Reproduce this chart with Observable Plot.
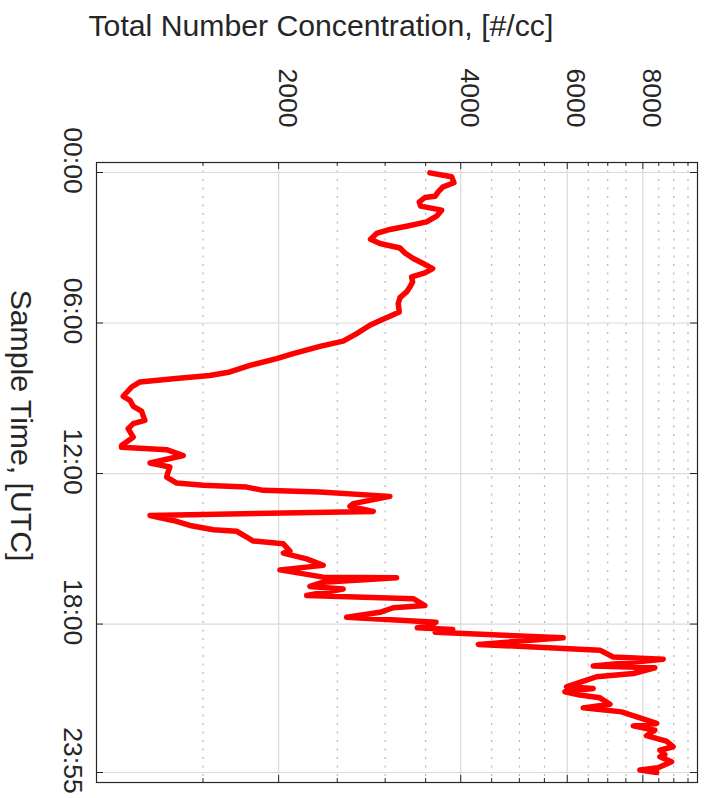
<!DOCTYPE html>
<html>
<head>
<meta charset="utf-8">
<script src="https://cdn.jsdelivr.net/npm/d3@7"></script>
<script src="https://cdn.jsdelivr.net/npm/@observablehq/plot@0.6"></script>
<style>
  html, body { margin: 0; padding: 0; background: #fff; }
  svg { display: block; }
</style>
</head>
<body>
<div id="chart"></div>
<script>
// Sample time in hours (UTC)
const hours = [
  0.016, 0.17, 0.41, 0.57, 0.77, 0.95, 1.00, 1.17, 1.34, 1.50,
  1.74, 1.97, 2.14, 2.27, 2.43, 2.66, 2.83, 3.01, 3.21, 3.43,
  3.63, 3.83, 4.00, 4.16, 4.36, 4.56, 4.76, 4.99, 5.23, 5.56,
  5.73, 5.89, 6.09, 6.42, 6.72, 6.93, 7.22, 7.42, 7.69, 7.95,
  8.09, 8.22, 8.35, 8.55, 8.92, 9.08, 9.32, 9.51, 9.88, 10.01,
  10.21, 10.55, 10.88, 10.95, 11.05, 11.28, 11.58, 11.74, 12.01, 12.14,
  12.38, 12.47, 12.54, 12.67, 12.74, 12.91, 13.20, 13.31, 13.51, 13.67,
  13.87, 14.07, 14.24, 14.30, 14.53, 14.69, 14.80, 15.09, 15.17, 15.40,
  15.66, 15.84, 16.13, 16.15, 16.33, 16.50, 16.60, 16.86, 16.99, 17.26,
  17.35, 17.53, 17.73, 17.93, 18.08, 18.15, 18.22, 18.33, 18.55, 18.81,
  19.04, 19.31, 19.40, 19.67, 19.74, 19.97, 20.10, 20.23, 20.50, 20.57,
  20.70, 20.83, 20.94, 21.20, 21.34, 21.50, 21.96, 22.06, 22.23, 22.45,
  22.67, 22.89, 23.03, 23.20, 23.29, 23.49, 23.73, 23.82, 23.917
];
// Total number concentration, #/cc
const concentration = [
  3557, 3864, 3898, 3741, 3671, 3627, 3490, 3416, 3434, 3720,
  3649, 3513, 3255, 3055, 2904, 2838, 2941, 3174, 3235, 3339,
  3467, 3595, 3490, 3318, 3331, 3297, 3255, 3174, 3153, 3166,
  3055, 2950, 2831, 2692, 2557, 2341, 2114, 1985, 1793, 1662,
  1539, 1339, 1180, 1143, 1107, 1136, 1150, 1187, 1202, 1150,
  1128, 1150, 1100, 1100, 1306, 1391, 1226, 1322, 1310, 1306,
  1357, 1501, 1771, 1886, 2341, 3055, 2657, 2624, 2867, 1226,
  1339, 1427, 1560, 1705, 1771, 1816, 2036, 2088, 2036, 2225,
  2370, 2010, 2370, 3133, 2370, 2253, 2557, 2225, 3339, 3490,
  3093, 2941, 2591, 3640, 3560, 3390, 3880, 3630, 5907, 4276,
  6793, 7145, 8645, 6622, 8375, 7713, 6708, 6457, 5984, 6622,
  5945, 6295, 6793, 7058, 6375, 7378, 8433, 7713, 8375, 8110,
  8750, 8975, 8536, 8700, 8536, 8925, 8475, 7910, 8433
];

const timeTicks = [0, 6, 12, 18, 23.9167];
const timeTickLabels = ["00:00", "06:00", "12:00", "18:00", "23:55"];
const concMajorTicks = [2000, 4000, 6000, 8000];
const concMajorLabels = ["2000", "4000", "6000", "8000"];
const concMinorTicks = [1500, 2500, 3000, 3500, 4500, 5000, 5500, 6500, 7000, 7500, 8500, 9000, 9500];
const concDomain = [1000, 9850];
const xLabel = "Total Number Concentration, [#/cc]";
const yLabel = "Sample Time, [UTC]";

const series = hours.map((h, i) => ({hour: h, conc: concentration[i]}));

const W = 708, H = 798;
const mTop = 162, mBottom = 16, mLeft = 96, mRight = 11;
const innerW = W - mLeft - mRight;
const innerH = H - mTop - mBottom;
const majorLen = 7, minorLen = 4;
const ink = "#262626";
const font = "'Liberation Sans', Arial, Helvetica, sans-serif";

const chart = Plot.plot({
  width: W,
  height: H,
  marginTop: mTop,
  marginBottom: mBottom,
  marginLeft: mLeft,
  marginRight: mRight,
  style: {fontFamily: font, background: "#fff", overflow: "visible"},
  x: {type: "log", domain: concDomain, axis: null},
  y: {domain: [0, 23.9167], reverse: true, insetTop: 10, insetBottom: 10, axis: null},
  marks: [
    // grid
    Plot.ruleX(concMinorTicks, {x: d => d, stroke: "#a8a8a8", strokeWidth: 1, strokeDasharray: "2,6.5"}),
    Plot.ruleX(concMajorTicks, {x: d => d, stroke: "#dadada", strokeWidth: 1.2}),
    Plot.ruleY(timeTicks, {y: d => d, stroke: "#dadada", strokeWidth: 1.2}),
    // data line
    Plot.line(series, {x: "conc", y: "hour", stroke: "#ff0000", strokeWidth: 5.5, strokeLinejoin: "round", strokeLinecap: "round"}),
    // frame
    Plot.frame({stroke: ink, strokeWidth: 1.2}),
    // inward ticks: top & bottom
    Plot.tickX(concMajorTicks, {x: d => d, stroke: ink, insetBottom: innerH - majorLen}),
    Plot.tickX(concMajorTicks, {x: d => d, stroke: ink, insetTop: innerH - majorLen}),
    Plot.tickX(concMinorTicks, {x: d => d, stroke: ink, insetBottom: innerH - minorLen}),
    Plot.tickX(concMinorTicks, {x: d => d, stroke: ink, insetTop: innerH - minorLen}),
    // inward ticks: left & right
    Plot.tickY(timeTicks, {y: d => d, stroke: ink, insetRight: innerW - majorLen}),
    Plot.tickY(timeTicks, {y: d => d, stroke: ink, insetLeft: innerW - majorLen}),
    // x tick labels (rotated, above the frame)
    Plot.text(concMajorTicks, {
      x: d => d, text: (d, i) => concMajorLabels[i], frameAnchor: "top",
      rotate: 90, textAnchor: "end", lineAnchor: "bottom", dy: -35,
      fontSize: 26.5, fill: ink
    }),
    // y tick labels (rotated, left of the frame)
    Plot.text(timeTicks, {
      y: d => d, text: (d, i) => timeTickLabels[i], frameAnchor: "left",
      rotate: 90, textAnchor: "middle", lineAnchor: "top", dx: -14, dy: -12,
      fontSize: 26.5, fill: ink
    }),
    // axis titles
    Plot.text([xLabel], {
      text: d => d, frameAnchor: "top-left", textAnchor: "start", lineAnchor: "bottom",
      dx: -8, dy: -127, fontSize: 30.2, fill: ink
    }),
    Plot.text([yLabel], {
      text: d => d, frameAnchor: "left", rotate: 90, textAnchor: "middle", lineAnchor: "bottom",
      dx: -86, dy: -47, fontSize: 30.2, fill: ink
    })
  ]
});

document.getElementById("chart").appendChild(chart);
</script>
</body>
</html>
